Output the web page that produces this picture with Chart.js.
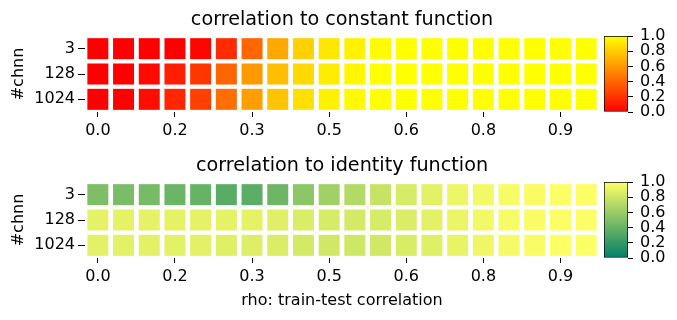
<!DOCTYPE html>
<html>
<head>
<meta charset="utf-8">
<script src="https://cdn.jsdelivr.net/npm/chart.js@4"></script>
<style>
  html, body { margin: 0; padding: 0; background: #fff; }
  body { width: 677px; height: 320px; position: relative; overflow: hidden; }
  .box { position: absolute; }
</style>
</head>
<body>
<div class="box" style="left:0;top:0;width:600px;height:148px;"><canvas id="hm1"></canvas></div>
<div class="box" style="left:590px;top:0;width:87px;height:148px;"><canvas id="cb1"></canvas></div>
<div class="box" style="left:0;top:146px;width:600px;height:174px;"><canvas id="hm2"></canvas></div>
<div class="box" style="left:590px;top:146px;width:87px;height:174px;"><canvas id="cb2"></canvas></div>
<script>
// ---- data ----
const rhoCategories = ['0.00','0.05','0.10','0.15','0.20','0.25','0.30','0.35','0.40','0.45',
                       '0.50','0.55','0.60','0.65','0.70','0.75','0.80','0.85','0.90','0.95'];
const xTickLabels = ['0.0','','','0.2','','','0.3','','','0.5','','','0.6','','','0.8','','','0.9',''];
const rowLabels = ['3', '128', '1024'];
const colorTicks = [0, 0.2, 0.4, 0.6, 0.8, 1.0];

// correlation to constant function
const constChnn3    = [0.00,0.00,0.00,0.00,0.02,0.17,0.40,0.66,0.82,0.91,0.95,0.99,1.00,1.00,1.00,1.00,1.00,1.00,1.00,1.00];
const constChnn128  = [0.00,0.00,0.04,0.12,0.21,0.40,0.60,0.75,0.85,0.93,0.97,1.00,1.00,1.00,1.00,1.00,1.00,1.00,1.00,1.00];
const constChnn1024 = [0.00,0.00,0.05,0.15,0.25,0.43,0.62,0.77,0.88,0.95,0.98,1.00,1.00,1.00,1.00,1.00,1.00,1.00,1.00,1.00];

// correlation to identity function
const identChnn3    = [0.49,0.48,0.47,0.42,0.40,0.35,0.36,0.43,0.55,0.63,0.70,0.78,0.84,0.89,0.93,0.95,0.97,0.98,0.99,0.99];
const identChnn128  = [0.90,0.90,0.90,0.90,0.90,0.90,0.90,0.88,0.86,0.84,0.83,0.84,0.86,0.89,0.92,0.95,0.97,0.98,0.99,0.99];
const identChnn1024 = [0.89,0.89,0.89,0.89,0.89,0.88,0.87,0.86,0.83,0.82,0.81,0.82,0.85,0.88,0.91,0.94,0.96,0.98,0.99,0.99];

// ---- colormaps ----
function autumn(v) { return `rgb(255,${Math.round(255 * v)},0)`; }
function summer(v) { return `rgb(${Math.round(255 * v)},${Math.round(255 * (0.5 + v / 2))},102)`; }

const FONT = "'DejaVu Sans', sans-serif";
const TICK = 16;
const TITLE = 19.2;
Chart.defaults.font.family = FONT;
Chart.defaults.color = '#000';
Chart.defaults.animation = false;
Chart.defaults.events = [];

const HALF = 0.415;

function heatmap(id, title, rows, cmap, opts) {
  const datasets = rows.map((vals, r) => ({
    data: vals.map(() => [r - HALF, r + HALF]),
    backgroundColor: vals.map(cmap),
    borderWidth: 0,
    grouped: false,
    barPercentage: 0.817,
    categoryPercentage: 1.0
  }));
  return new Chart(document.getElementById(id), {
    type: 'bar',
    data: { labels: rhoCategories, datasets },
    options: {
      responsive: true,
      maintainAspectRatio: false,
      layout: { padding: { top: 0, right: 1, left: 0, bottom: 0 } },
      plugins: {
        legend: { display: false },
        tooltip: { enabled: false },
        title: {
          display: true, text: title, fullSize: false,
          font: { size: TITLE, weight: 'normal', family: FONT, lineHeight: 1.2 },
          color: '#000', padding: { top: 8, bottom: 4.96 }
        }
      },
      scales: {
        x: {
          type: 'category',
          offset: true,
          grid: {
            offset: false, drawOnChartArea: false, tickLength: 5, tickWidth: 1,
            tickColor: (c) => xTickLabels[c.index] ? '#000' : 'rgba(0,0,0,0)'
          },
          border: { display: false },
          ticks: {
            autoSkip: false, maxRotation: 0, padding: 4,
            font: { size: TICK },
            callback: (v, i) => xTickLabels[i]
          },
          title: opts.xTitle ? {
            display: true, text: opts.xTitle, font: { size: TICK },
            padding: { top: 0, bottom: 10 }
          } : { display: false },
          afterFit: (s) => { s.height = opts.xHeight; }
        },
        y: {
          type: 'linear', reverse: true, min: -0.5, max: 2.5,
          grid: { drawOnChartArea: false, tickLength: 7, tickWidth: 1, tickColor: '#000' },
          border: { display: false },
          afterBuildTicks: (s) => { s.ticks = rowLabels.map((_, i) => ({ value: i })); },
          ticks: { autoSkip: false, padding: 3, font: { size: TICK }, callback: (v) => rowLabels[v] },
          title: { display: true, text: '#chnn', font: { size: TICK }, padding: { top: 9, bottom: 0 } },
          afterFit: (s) => { s.width = 85; }
        }
      }
    }
  });
}

function colorbar(id, stops, padBottom) {
  return new Chart(document.getElementById(id), {
    type: 'bar',
    data: {
      labels: [''],
      datasets: [{
        data: [[0, 1]],
        backgroundColor: (ctx) => {
          const ca = ctx.chart.chartArea;
          if (!ca) return stops[0];
          const g = ctx.chart.ctx.createLinearGradient(0, ca.bottom, 0, ca.top);
          stops.forEach((c, i) => g.addColorStop(i / (stops.length - 1), c));
          return g;
        },
        borderColor: '#000', borderWidth: 1, borderSkipped: false,
        barPercentage: 1, categoryPercentage: 1
      }]
    },
    options: {
      responsive: true, maintainAspectRatio: false,
      layout: { padding: { top: 36, left: 14, right: 0, bottom: padBottom } },
      plugins: { legend: { display: false }, tooltip: { enabled: false } },
      scales: {
        x: { display: false },
        y: {
          position: 'right', min: 0, max: 1,
          afterBuildTicks: (s) => { s.ticks = colorTicks.map(v => ({ value: v })); },
          grid: { drawOnChartArea: false, tickLength: 5, tickWidth: 1, tickColor: '#000' },
          border: { display: false },
          ticks: { autoSkip: false, padding: 7, font: { size: TICK }, callback: (v) => v.toFixed(1) },
          afterFit: (s) => { s.width = 49; }
        }
      }
    }
  });
}

heatmap('hm1', 'correlation to constant function', [constChnn3, constChnn128, constChnn1024], autumn, { xHeight: 36 });
heatmap('hm2', 'correlation to identity function', [identChnn3, identChnn128, identChnn1024], summer, { xHeight: 62, xTitle: 'rho: train-test correlation' });
colorbar('cb1', ['rgb(255,0,0)', 'rgb(255,255,0)'], 36);
colorbar('cb2', ['rgb(0,128,102)', 'rgb(255,255,102)'], 62);
</script>
</body>
</html>
